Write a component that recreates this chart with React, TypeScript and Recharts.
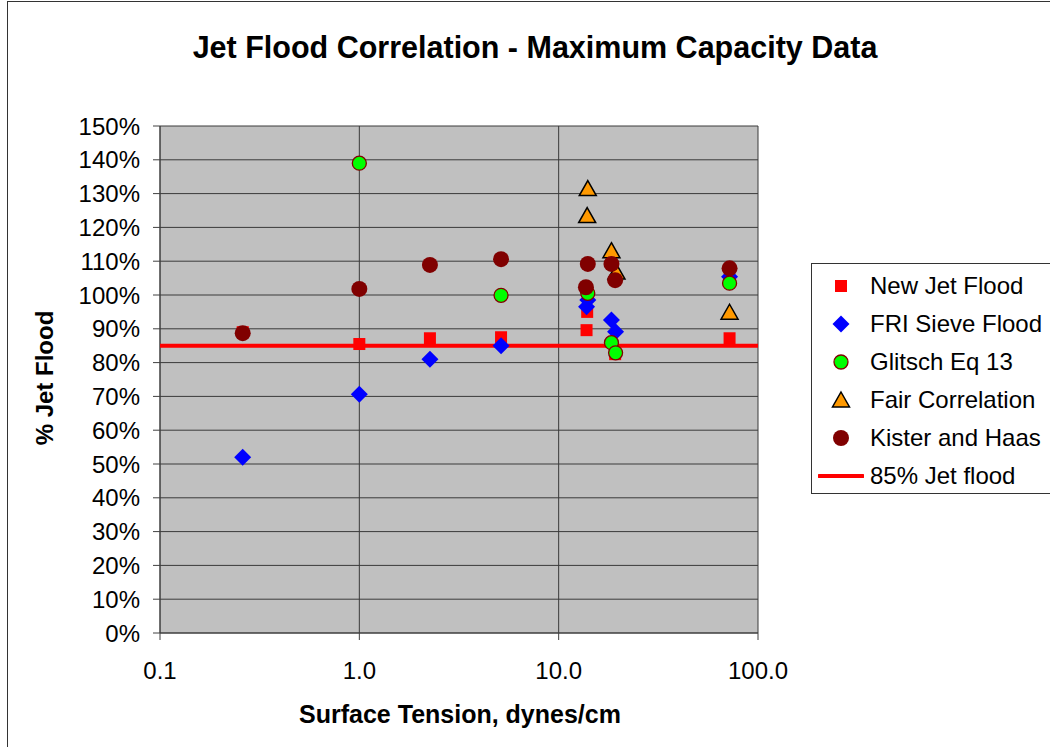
import React from 'react';
import { ScatterChart, Scatter, XAxis, YAxis, CartesianGrid } from 'recharts';

// surface tension (dynes/cm) and % jet flood, per method
const newJetTension = [0.26, 1.0, 2.26, 5.14, 13.9, 13.8, 19.2, 72];
const newJetPct = [89, 85.5, 87.2, 87.5, 95, 89.6, 82.5, 87.2];

const friTension = [0.26, 1.0, 2.26, 5.14, 14.0, 13.8, 18.4, 19.3, 72];
const friPct = [52, 70.6, 81, 85, 98.5, 96.5, 92.6, 89.1, 105.4];

const glitschTension = [1.0, 5.14, 14.0, 18.4, 19.3, 72];
const glitschPct = [139, 99.9, 100.5, 85.9, 82.9, 103.5];

const fairTension = [14.0, 13.9, 18.4, 19.5, 72];
const fairPct = [131.2, 123.2, 112.8, 106.5, 94.6];

const kisterTension = [0.26, 1.0, 2.26, 5.14, 14.0, 13.7, 18.4, 19.2, 72];
const kisterPct = [88.7, 101.8, 108.9, 110.6, 109.2, 102.3, 109.2, 104.4, 107.9];

const limitTension = [0.1, 100];
const limitPct = [85, 85];

const xTicks = [0.1, 1, 10, 100];
const yTicks = [0, 10, 20, 30, 40, 50, 60, 70, 80, 90, 100, 110, 120, 130, 140, 150];

const legendNames = ['New Jet Flood', 'FRI Sieve Flood', 'Glitsch Eq 13', 'Fair Correlation', 'Kister and Haas', '85% Jet flood'];

const zip = (xs: number[], ys: number[]) => xs.map((x, i) => ({ x, y: ys[i] }));

const FONT = '"Liberation Sans", Arial, sans-serif';

const Square = (p: any) => <rect x={p.cx - 6} y={p.cy - 6} width={12} height={12} fill="#FF0000" />;
const Diamond = (p: any) => (
    <polygon points={`${p.cx},${p.cy - 8.5} ${p.cx + 8.5},${p.cy} ${p.cx},${p.cy + 8.5} ${p.cx - 8.5},${p.cy}`} fill="#0000FF" />
);
const GreenDot = (p: any) => <circle cx={p.cx} cy={p.cy} r={7} fill="#00FF00" stroke="#800000" strokeWidth={1.3} />;
const Triangle = (p: any) => (
    <polygon points={`${p.cx},${p.cy - 9} ${p.cx + 8.5},${p.cy + 6} ${p.cx - 8.5},${p.cy + 6}`} fill="#FF9900" stroke="#000" strokeWidth={1.5} />
);
const RedDot = (p: any) => <circle cx={p.cx} cy={p.cy} r={8} fill="#800000" />;
const NoDot = () => <g />;

const legendMarkers = [
    <svg width={20} height={20}><Square cx={10} cy={10} /></svg>,
    <svg width={20} height={20}><Diamond cx={10} cy={10} /></svg>,
    <svg width={20} height={20}><GreenDot cx={10} cy={10} /></svg>,
    <svg width={20} height={20}><Triangle cx={10} cy={11} /></svg>,
    <svg width={20} height={20}><RedDot cx={10} cy={10} /></svg>,
    <svg width={46} height={20}><line x1={1} x2={45} y1={10} y2={10} stroke="#FF0000" strokeWidth={4} strokeLinecap="round" /></svg>,
];

export default function App() {
    const tickStyle = { fill: '#000', fontSize: 24, fontFamily: FONT };
    return (
        <div style={{ position: 'absolute', left: 0, top: 0, width: 1050, height: 747, background: '#fff', overflow: 'hidden', fontFamily: FONT }}>
            <div style={{ position: 'absolute', left: 7, top: 1, width: 1100, height: 800, border: '1.5px solid #333' }} />
            <div style={{ position: 'absolute', left: 0, width: 1070, top: 30, textAlign: 'center', fontSize: 30.5, fontWeight: 'bold', whiteSpace: 'nowrap' }}>
                Jet Flood Correlation - Maximum Capacity Data
            </div>
            <div style={{ position: 'absolute', left: 0, top: 0 }}>
                <ScatterChart width={1050} height={747} margin={{ top: 126, right: 292, bottom: 0, left: 0 }}>
                    <CartesianGrid fill="#C0C0C0" fillOpacity={1} stroke="#3a3a3a" strokeWidth={1} />
                    <XAxis
                        type="number"
                        dataKey="x"
                        scale="log"
                        domain={[0.1, 100]}
                        ticks={xTicks}
                        allowDataOverflow
                        height={114}
                        tickSize={7}
                        tickMargin={22}
                        stroke="#404040"
                        tick={tickStyle}
                        tickFormatter={(v: number) => v.toFixed(1)}
                    />
                    <YAxis
                        type="number"
                        dataKey="y"
                        domain={[0, 150]}
                        ticks={yTicks}
                        width={160}
                        tickSize={7}
                        tickMargin={13}
                        stroke="#404040"
                        tick={tickStyle}
                        tickFormatter={(v: number) => `${v}%`}
                    />
                    <Scatter data={zip(limitTension, limitPct)} line={{ stroke: '#FF0000', strokeWidth: 4 }} shape={NoDot} isAnimationActive={false} />
                    <Scatter data={zip(newJetTension, newJetPct)} shape={Square} isAnimationActive={false} />
                    <Scatter data={zip(friTension, friPct)} shape={Diamond} isAnimationActive={false} />
                    <Scatter data={zip(glitschTension, glitschPct)} shape={GreenDot} isAnimationActive={false} />
                    <Scatter data={zip(fairTension, fairPct)} shape={Triangle} isAnimationActive={false} />
                    <Scatter data={zip(kisterTension, kisterPct)} shape={RedDot} isAnimationActive={false} />
                </ScatterChart>
            </div>
            <div style={{ position: 'absolute', left: 297, top: 700, width: 326, textAlign: 'center', fontSize: 25, fontWeight: 'bold', whiteSpace: 'nowrap' }}>
                Surface Tension, dynes/cm
            </div>
            <div
                style={{
                    position: 'absolute', left: 45, top: 378, fontSize: 24, fontWeight: 'bold', whiteSpace: 'nowrap',
                    transform: 'translate(-50%, -50%) rotate(-90deg)',
                }}
            >
                % Jet Flood
            </div>
            <div style={{ position: 'absolute', left: 811, top: 263, width: 260, height: 229, background: '#fff', border: '1.5px solid #333' }}>
                {legendNames.map((name, i) => (
                    <div key={name} style={{ position: 'absolute', left: 0, top: 3 + i * 38, height: 38, display: 'flex', alignItems: 'center', fontSize: 24, whiteSpace: 'nowrap' }}>
                        <div style={{ width: 58, display: 'flex', justifyContent: 'center' }}>{legendMarkers[i]}</div>
                        <span>{name}</span>
                    </div>
                ))}
            </div>
        </div>
    );
}
